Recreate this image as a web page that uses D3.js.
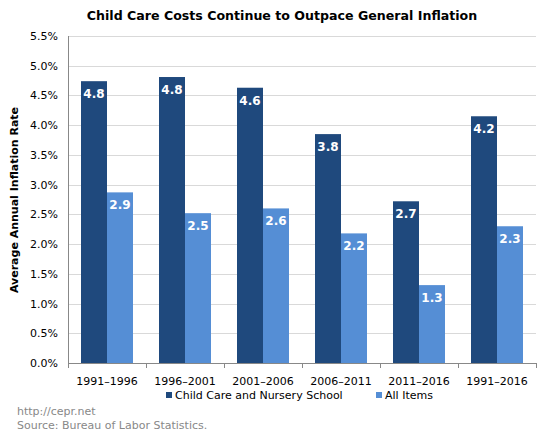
<!DOCTYPE html>
<html><head><meta charset="utf-8">
<script src="https://cdn.jsdelivr.net/npm/d3@7"></script>
<style>body{margin:0;background:#fff}svg{display:block}text{font-family:"DejaVu Sans",Verdana,sans-serif}</style>
</head><body><svg id="c" width="550" height="443"></svg>
<script>
const categories = ["1991–1996","1996–2001","2001–2006","2006–2011","2011–2016","1991–2016"];
const childCare = [4.74, 4.81, 4.63, 3.85, 2.72, 4.15];
const allItems = [2.87, 2.52, 2.60, 2.18, 1.31, 2.30];
const childLabels = ["4.8","4.8","4.6","3.8","2.7","4.2"];
const allLabels = ["2.9","2.5","2.6","2.2","1.3","2.3"];
const seriesNames = ["Child Care and Nursery School","All Items"];
const yTicks = [0,0.5,1,1.5,2,2.5,3,3.5,4,4.5,5,5.5];

const colors = ["#1f497d","#558ed5"];
const svg = d3.select("#c");
const m = {l:68, r:536, t:36, b:363};
const x = d3.scaleBand().domain(categories).range([m.l, m.r]).paddingInner(0).paddingOuter(0);
const y = d3.scaleLinear().domain([0,5.5]).range([m.b, m.t]);
const bw = x.bandwidth()/3;

// gridlines
svg.append("g").selectAll("line").data(yTicks.filter(d=>d>0)).join("line")
  .attr("x1", m.l).attr("x2", m.r).attr("y1", d=>Math.round(y(d))+0.5).attr("y2", d=>Math.round(y(d))+0.5)
  .attr("stroke","#d9d9d9").attr("stroke-width",1);

// y tick labels
svg.append("g").selectAll("text").data(yTicks).join("text")
  .attr("x", 58).attr("y", d=>y(d)+4).attr("text-anchor","end")
  .attr("font-size","11px").attr("fill","#000")
  .text(d=>d3.format(".1f")(d)+"%");

const series = [childCare, allItems];
const labels = [childLabels, allLabels];
series.forEach((vals, si)=>{
  const g = svg.append("g");
  g.selectAll("rect").data(vals).join("rect")
    .attr("x",(d,i)=>x(categories[i]) + bw/2 + si*bw)
    .attr("y", d=>y(d)).attr("width", bw).attr("height", d=>y(0)-y(d))
    .attr("fill", colors[si]);
  g.selectAll("text").data(vals).join("text")
    .attr("x",(d,i)=>x(categories[i]) + bw/2 + si*bw + bw/2)
    .attr("y", d=>y(d)+17).attr("text-anchor","middle")
    .attr("font-size","12px").attr("font-weight","bold").attr("fill","#fff")
    .text((d,i)=>labels[si][i]);
});

// axes lines
svg.append("line").attr("x1",m.l+0.5).attr("x2",m.l+0.5).attr("y1",m.t).attr("y2",m.b).attr("stroke","#888");
svg.append("line").attr("x1",m.l).attr("x2",m.r).attr("y1",m.b+0.5).attr("y2",m.b+0.5).attr("stroke","#888");
// x ticks
svg.append("g").selectAll("line").data(categories.concat(["end"])).join("line")
  .attr("x1",(d,i)=>Math.round(m.l + i*x.step())+0.5).attr("x2",(d,i)=>Math.round(m.l + i*x.step())+0.5)
  .attr("y1",m.b).attr("y2",m.b+5).attr("stroke","#888");
svg.append("g").selectAll("text").data(categories).join("text")
  .attr("x",d=>x(d)+x.bandwidth()/2).attr("y",385).attr("text-anchor","middle")
  .attr("font-size","11px").attr("fill","#000").text(d=>d);

// title
svg.append("text").attr("x",282).attr("y",20).attr("text-anchor","middle")
  .attr("font-size","12.6px").attr("font-weight","bold").text("Child Care Costs Continue to Outpace General Inflation");
// y title
svg.append("text").attr("transform","translate(18,200) rotate(-90)").attr("text-anchor","middle")
  .attr("font-size","11px").attr("font-weight","bold").text("Average Annual Inflation Rate");

// legend
const legX = [166, 376];
seriesNames.forEach((n,i)=>{
  svg.append("rect").attr("x",legX[i]).attr("y",392).attr("width",6).attr("height",6).attr("fill",colors[i]);
  svg.append("text").attr("x",legX[i]+9).attr("y",399).attr("font-size","11px").attr("fill","#000").text(n);
});

// footer
svg.append("text").attr("x",17).attr("y",415).attr("font-size","11px").attr("fill","#888").text("http://cepr.net");
svg.append("text").attr("x",17).attr("y",429).attr("font-size","11px").attr("fill","#888").text("Source: Bureau of Labor Statistics.");
</script></body></html>
